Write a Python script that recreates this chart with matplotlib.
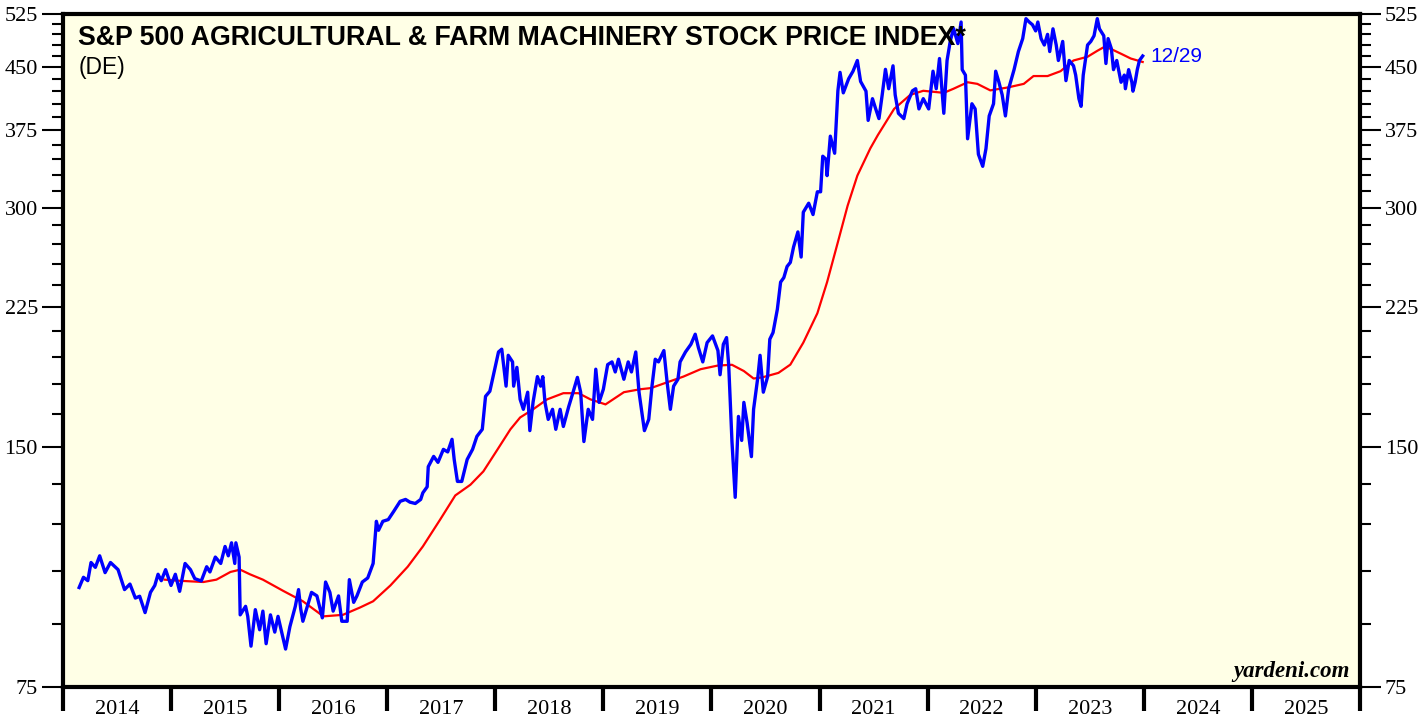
import numpy as np
import matplotlib.pyplot as plt
from matplotlib.ticker import FixedLocator, NullFormatter

# S&P 500 agricultural & farm machinery index (DE)
jaren = [2014.15, 2014.19, 2014.23, 2014.26, 2014.30, 2014.34, 2014.39, 2014.44, 2014.51, 2014.57,
         2014.62, 2014.67, 2014.71, 2014.76, 2014.81, 2014.85, 2014.88, 2014.91, 2014.95, 2015.00,
         2015.04, 2015.08, 2015.13, 2015.18, 2015.22, 2015.28, 2015.33, 2015.36, 2015.41, 2015.46,
         2015.50, 2015.53, 2015.56, 2015.59, 2015.60, 2015.63, 2015.64, 2015.69, 2015.71, 2015.74,
         2015.78, 2015.82, 2015.85, 2015.88, 2015.92, 2015.96, 2015.99, 2016.06, 2016.10, 2016.15,
         2016.18, 2016.20, 2016.22, 2016.30, 2016.35, 2016.40, 2016.43, 2016.47, 2016.50, 2016.55,
         2016.58, 2016.63, 2016.65, 2016.69, 2016.72, 2016.77, 2016.82, 2016.87, 2016.90, 2016.92,
         2016.96, 2017.01, 2017.06, 2017.12, 2017.17, 2017.21, 2017.26, 2017.31, 2017.33, 2017.37,
         2017.38, 2017.43, 2017.47, 2017.52, 2017.56, 2017.60, 2017.62, 2017.65, 2017.69, 2017.74,
         2017.79, 2017.83, 2017.88, 2017.91, 2017.95, 2017.98, 2018.03, 2018.06, 2018.10, 2018.12,
         2018.16, 2018.17, 2018.20, 2018.23, 2018.26, 2018.30, 2018.32, 2018.35, 2018.39, 2018.42,
         2018.44, 2018.46, 2018.49, 2018.53, 2018.56, 2018.60, 2018.63, 2018.68, 2018.72, 2018.76,
         2018.79, 2018.82, 2018.86, 2018.90, 2018.93, 2018.96, 2019.00, 2019.04, 2019.08, 2019.11,
         2019.14, 2019.19, 2019.23, 2019.26, 2019.30, 2019.33, 2019.38, 2019.42, 2019.45, 2019.48,
         2019.51, 2019.56, 2019.59, 2019.62, 2019.65, 2019.69, 2019.71, 2019.76, 2019.81, 2019.85,
         2019.88, 2019.92, 2019.96, 2020.01, 2020.06, 2020.08, 2020.11, 2020.14, 2020.16, 2020.19,
         2020.22, 2020.25, 2020.28, 2020.30, 2020.33, 2020.37, 2020.39, 2020.43, 2020.45, 2020.48,
         2020.52, 2020.54, 2020.57, 2020.61, 2020.64, 2020.67, 2020.70, 2020.73, 2020.76, 2020.80,
         2020.83, 2020.85, 2020.90, 2020.94, 2020.98, 2021.01, 2021.03, 2021.06, 2021.07, 2021.10,
         2021.14, 2021.17, 2021.19, 2021.22, 2021.27, 2021.31, 2021.35, 2021.38, 2021.43, 2021.45,
         2021.49, 2021.52, 2021.55, 2021.58, 2021.61, 2021.64, 2021.68, 2021.70, 2021.73, 2021.78,
         2021.81, 2021.86, 2021.89, 2021.92, 2021.96, 2022.01, 2022.05, 2022.08, 2022.11, 2022.15,
         2022.18, 2022.21, 2022.24, 2022.28, 2022.31, 2022.32, 2022.35, 2022.37, 2022.41, 2022.44,
         2022.47, 2022.51, 2022.54, 2022.57, 2022.61, 2022.63, 2022.66, 2022.69, 2022.72, 2022.75,
         2022.80, 2022.84, 2022.88, 2022.91, 2022.94, 2022.97, 2023.00, 2023.02, 2023.05, 2023.08,
         2023.11, 2023.13, 2023.16, 2023.19, 2023.21, 2023.25, 2023.28, 2023.31, 2023.35, 2023.37,
         2023.40, 2023.42, 2023.44, 2023.48, 2023.51, 2023.54, 2023.57, 2023.59, 2023.63, 2023.65,
         2023.67, 2023.70, 2023.72, 2023.75, 2023.79, 2023.82, 2023.83, 2023.86, 2023.89, 2023.90,
         2023.92, 2023.94, 2023.96, 2023.99]
koers = [100, 103, 102, 107.5, 106, 109.6, 104.4, 107.5, 105.3, 99.4,
         101, 97, 97.5, 93, 98.6, 100.6, 103.9, 102, 105.3, 100.6,
         103.9, 98.9, 107.2, 105.3, 102.6, 101.9, 106.2, 104.6, 109.2, 107.2,
         112.6, 109.6, 113.8, 107.2, 113.8, 109.2, 92.4, 94.7, 92, 84.4,
         93.8, 88.5, 93.4, 85, 92.4, 87.9, 92, 83.7, 89.3, 94.7,
         99.4, 94, 90.7, 98.6, 97.6, 91.6, 101.6, 98.6, 93.4, 97.6,
         90.7, 90.7, 102.3, 95.8, 97.6, 101.6, 102.8, 107.2, 121.1, 118,
         121.1, 121.7, 124.6, 128.3, 129, 128, 127.5, 129, 131.5, 133.8,
         141.8, 146.1, 143.6, 149.1, 148, 153.5, 144.8, 135.9, 135.9, 144.8,
         149.1, 154.8, 158, 173.8, 176.4, 184, 197.6, 199.2, 179, 195.7,
         192, 179, 189, 172.3, 167.4, 175.9, 157.4, 171, 184, 179,
         184, 170.8, 162.6, 167.4, 158, 167.4, 159.3, 168.8, 175.9, 183.6,
         175.9, 152.5, 167.4, 162.6, 188, 170.8, 177.4, 190.5, 192, 186.5,
         193.5, 182.6, 192, 186.5, 197.6, 175.9, 157.4, 162.6, 179, 193.5,
         192, 198.4, 181, 167.4, 179, 182.6, 192, 197.6, 202, 208,
         200, 192, 203, 207, 198.4, 185, 202, 206, 190, 152.5,
         129.8, 164, 153, 170.8, 161, 146, 167.4, 184, 195.7, 175.9,
         184, 205, 209, 223.6, 241.8, 245, 253, 256, 267.7, 279.6,
         260, 296, 303.8, 294, 314, 314, 348, 345, 329, 368.8,
         351, 420.5, 443.5, 418, 435.5, 445, 459, 432, 420, 386,
         411, 399, 388, 415.6, 447.4, 423, 452, 415.6, 394, 388,
         405, 420.5, 423, 399, 411, 399, 445, 423, 461.6, 394,
         459, 485.6, 503.6, 482, 513, 447, 440, 366, 405, 399,
         350, 338, 355.7, 391, 405, 445, 431, 415.6, 391, 423,
         447, 471, 489, 518, 513, 509, 500, 513, 489, 480,
         495, 471, 503, 480, 459, 485, 433, 459, 452, 440,
         411, 402, 440, 480, 485, 493, 518, 503, 493, 455,
         489, 475, 447, 459, 431, 440, 423, 447, 431, 420,
         431, 447, 459, 465]

jaren_gem = [2014.94, 2015.06, 2015.30, 2015.42, 2015.55, 2015.64, 2015.73, 2015.85, 2016.04, 2016.22,
             2016.41, 2016.59, 2016.75, 2016.87, 2017.03, 2017.19, 2017.33, 2017.49, 2017.63, 2017.77,
             2017.89, 2018.02, 2018.14, 2018.23, 2018.35, 2018.48, 2018.63, 2018.77, 2018.88, 2019.02,
             2019.19, 2019.34, 2019.44, 2019.59, 2019.74, 2019.90, 2020.06, 2020.19, 2020.30, 2020.39,
             2020.47, 2020.62, 2020.73, 2020.85, 2020.98, 2021.07, 2021.17, 2021.26, 2021.35, 2021.47,
             2021.54, 2021.69, 2021.84, 2021.96, 2022.15, 2022.24, 2022.37, 2022.46, 2022.58, 2022.74,
             2022.89, 2022.98, 2023.11, 2023.23, 2023.35, 2023.48, 2023.57, 2023.63, 2023.69, 2023.79,
             2023.88, 2023.99]
gemiddelde = [102.3, 102, 101.6, 102.3, 104.6, 105.3, 103.9, 102.3, 99, 96.1,
              92, 92.4, 94.4, 96.1, 100.6, 106.2, 112.6, 121.7, 130.5, 134.6,
              139.9, 149, 158, 163.5, 167.4, 172.3, 175.4, 175.4, 172.3, 169.8,
              175.9, 177.4, 178, 181, 184, 188, 190, 190.4, 187, 183,
              183.6, 186, 190.5, 203, 221, 241.8, 271.5, 301.6, 329, 356,
              370, 399, 415.6, 420.5, 418, 423, 431, 429, 421, 424.5,
              429, 438.8, 438.8, 445, 459, 464, 472, 477, 475, 468,
              461.6, 457]

y_ticks = [75, 150, 225, 300, 375, 450, 525]
jaarlabels = [str(j) for j in range(2014, 2026)]

################################################################################
fig = plt.figure(figsize=(14.27, 7.19), dpi=100)
ax = fig.add_axes([0.0441, 0.0445, 0.9089, 0.936])
ax.set_facecolor('#FFFFE6')

ax.plot(jaren_gem, gemiddelde, color='#FF0000', lw=1.6, zorder=2)
ax.plot(jaren, koers, color='#0000FF', lw=2.4, zorder=3)

ax.set_yscale('log')
ax.set_ylim(75, 525)
ax.set_xlim(2014, 2026)

ax.yaxis.set_major_locator(FixedLocator(y_ticks))
ax.yaxis.set_minor_locator(FixedLocator([v for v in range(90, 525, 15) if v not in y_ticks]))
ax.set_yticklabels([str(v) for v in y_ticks])
ax.yaxis.set_minor_formatter(NullFormatter())
ax.tick_params(axis='y', which='major', direction='out', length=15, width=1.5,
               left=True, right=True, labelleft=True, labelright=True, labelsize=16, pad=3)
ax.tick_params(axis='y', which='minor', direction='out', length=8, width=1.5,
               left=True, right=True)
for lab in ax.get_yticklabels():
    lab.set_fontfamily('Liberation Serif')

# jaartallen tussen de streepjes
ax.xaxis.set_major_locator(FixedLocator(np.arange(2014, 2027)))
ax.xaxis.set_major_formatter(NullFormatter())
ax.xaxis.set_minor_locator(FixedLocator(np.arange(2014, 2026) + 0.5))
ax.xaxis.set_ticklabels(jaarlabels, minor=True)
ax.tick_params(axis='x', which='major', direction='out', length=17, width=3)
ax.tick_params(axis='x', which='minor', length=0, labelsize=16, pad=9)
for lab in ax.get_xticklabels(minor=True):
    lab.set_fontfamily('Liberation Serif')

for s in ax.spines.values():
    s.set_linewidth(3)

ax.text(0.012, 0.984, 'S&P 500 AGRICULTURAL & FARM MACHINERY STOCK PRICE INDEX*',
        transform=ax.transAxes, fontsize=19.3, fontweight='bold', family='Liberation Sans',
        va='top', ha='left')
ax.text(0.012, 0.938, '(DE)', transform=ax.transAxes, fontsize=16.5,
        family='Liberation Sans', va='top', ha='left')
ax.text(jaren[-1] + 0.07, koers[-1] * 0.998, '12/29', color='#0000FF', fontsize=15,
        family='Liberation Sans', va='center', ha='left')
ax.text(0.992, 0.008, 'yardeni.com', transform=ax.transAxes, fontsize=16.5,
        family='Liberation Serif', fontweight='bold', fontstyle='italic',
        va='bottom', ha='right')

fig.savefig('out.png', dpi=100, facecolor='white')
